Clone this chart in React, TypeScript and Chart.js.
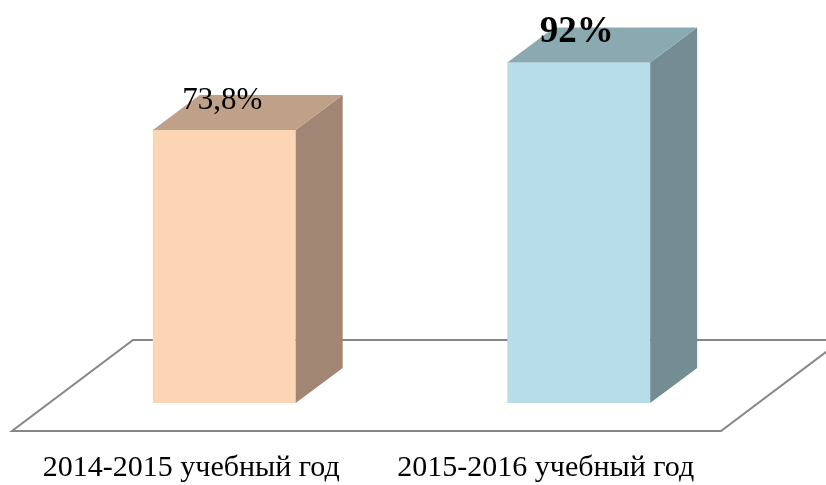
import React, { useEffect, useRef } from "react";
import { Chart, registerables } from "chart.js";

Chart.register(...registerables);

const categories = ["2014-2015 учебный год", "2015-2016 учебный год"];
const values = [73.8, 92];
const boldLabels = [false, true];
const frontColors = ["#FCD5B5", "#B7DEE8"];
const topColors = ["#BFA089", "#8AA9B1"];
const sideColors = ["#A18674", "#748D93"];

const DEPTH_X = 47;
const DEPTH_Y = -35;
const FLOOR_FRONT = { dx: -35, dy: 28 };
const FLOOR_BACK = { dx: 86, dy: -63 };

const fmt = (v: number) => String(v).replace(".", ",") + "%";

const floorPlugin = {
  id: "floor3d",
  beforeDatasetsDraw(chart: any) {
    const { ctx, chartArea } = chart;
    const { left, right, bottom } = chartArea;
    ctx.save();
    ctx.beginPath();
    ctx.moveTo(left + FLOOR_FRONT.dx, bottom + FLOOR_FRONT.dy);
    ctx.lineTo(right + FLOOR_FRONT.dx, bottom + FLOOR_FRONT.dy);
    ctx.lineTo(right + FLOOR_BACK.dx, bottom + FLOOR_BACK.dy);
    ctx.lineTo(left + FLOOR_BACK.dx, bottom + FLOOR_BACK.dy);
    ctx.closePath();
    ctx.fillStyle = "#ffffff";
    ctx.fill();
    ctx.strokeStyle = "#868686";
    ctx.lineWidth = 2;
    ctx.stroke();
    ctx.restore();
  },
};

const bar3dPlugin = {
  id: "bar3d",
  afterDatasetsDraw(chart: any) {
    const { ctx } = chart;
    const meta = chart.getDatasetMeta(0);
    meta.data.forEach((bar: any, i: number) => {
      const { x, y, base, width } = bar.getProps(["x", "y", "base", "width"], true);
      const l = x - width / 2;
      const r = x + width / 2;
      ctx.save();
      // side face
      ctx.beginPath();
      ctx.moveTo(r, y);
      ctx.lineTo(r + DEPTH_X, y + DEPTH_Y);
      ctx.lineTo(r + DEPTH_X, base + DEPTH_Y);
      ctx.lineTo(r, base);
      ctx.closePath();
      ctx.fillStyle = sideColors[i];
      ctx.fill();
      // top face
      ctx.beginPath();
      ctx.moveTo(l, y);
      ctx.lineTo(l + DEPTH_X, y + DEPTH_Y);
      ctx.lineTo(r + DEPTH_X, y + DEPTH_Y);
      ctx.lineTo(r, y);
      ctx.closePath();
      ctx.fillStyle = topColors[i];
      ctx.fill();
      // value label
      const bold = boldLabels[i];
      ctx.font = (bold ? "bold 37px" : "31px") + " 'Liberation Serif', 'Times New Roman', serif";
      ctx.fillStyle = "#000000";
      ctx.textAlign = "center";
      ctx.textBaseline = "alphabetic";
      ctx.fillText(fmt(values[i]), x - 2, y - 21);
      ctx.restore();
    });
  },
};

export default function App() {
  const ref = useRef<HTMLCanvasElement | null>(null);
  useEffect(() => {
    if (!ref.current) return;
    const chart = new Chart(ref.current, {
      type: "bar",
      data: {
        labels: categories,
        datasets: [
          {
            data: values,
            backgroundColor: frontColors,
            borderWidth: 0,
            barPercentage: 0.403,
            categoryPercentage: 1,
          },
        ],
      },
      options: {
        responsive: false,
        animation: false,
        events: [],
        layout: { padding: { top: 33, left: 47, right: 70, bottom: 0 } },
        plugins: {
          legend: { display: false },
          tooltip: { enabled: false },
          title: { display: false },
        },
        scales: {
          y: {
            display: false,
            min: 0,
            max: 100,
          },
          x: {
            grid: { display: false, drawTicks: false },
            border: { display: false },
            ticks: {
              color: "#000000",
              padding: 47,
              labelOffset: -33,
              maxRotation: 0,
              autoSkip: false,
              font: { family: "'Liberation Serif', 'Times New Roman', serif", size: 30 },
            },
            afterFit: (scale: any) => {
              scale.height = 82;
            },
          },
        },
      },
      plugins: [floorPlugin, bar3dPlugin],
    });
    return () => chart.destroy();
  }, []);
  return (
    <div style={{ position: "absolute", left: 0, top: 0, width: 826, height: 485, background: "#fff" }}>
      <canvas ref={ref} width={826} height={485} />
    </div>
  );
}
